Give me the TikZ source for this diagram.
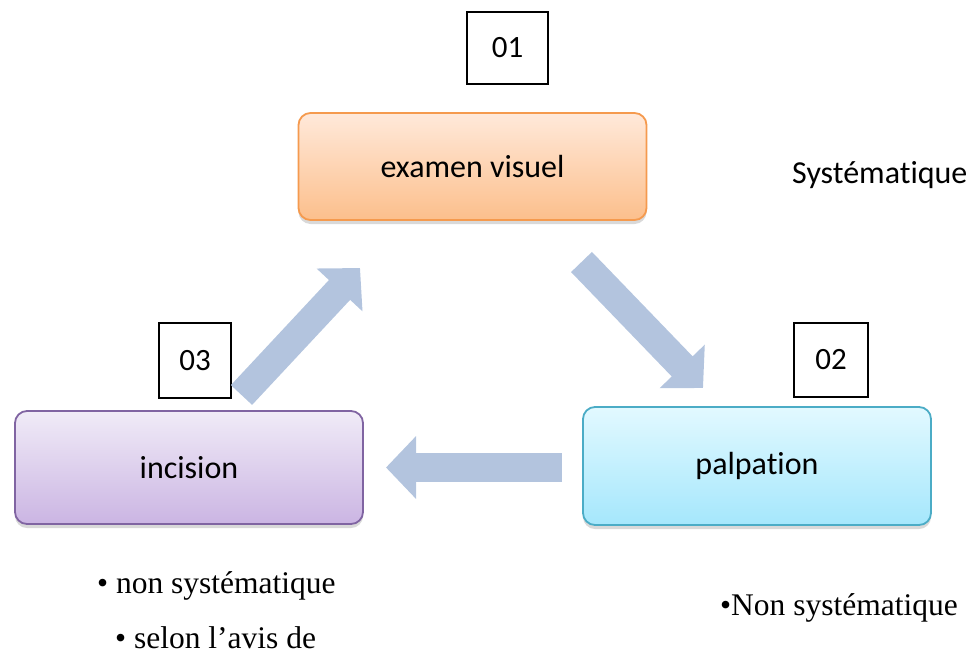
\documentclass[tikz,border=0pt]{standalone}
\usepackage{fontspec}
\setmainfont{Liberation Serif}
\newfontfamily\calibri[Ligatures={NoCommon}]{Carlito}
\usepackage{tikz}
\usetikzlibrary{arrows.meta,positioning,shadows}
\definecolor{arrowblue}{HTML}{B3C4DE}
\definecolor{orangetop}{HTML}{FFE9DA}
\definecolor{orangebot}{HTML}{FCBF8C}
\definecolor{orangeline}{HTML}{F59A4E}
\definecolor{purpletop}{HTML}{F0EBF7}
\definecolor{purplebot}{HTML}{CBB5E3}
\definecolor{purpleline}{HTML}{8064A2}
\definecolor{cyantop}{HTML}{E2F9FF}
\definecolor{cyanbot}{HTML}{A5E7FC}
\definecolor{cyanline}{HTML}{4BACC6}
\tikzstyle{stage}     = [rectangle, rounded corners=12pt, line width=1.8pt, minimum width=348pt, font=\calibri\fontsize{32}{38}\selectfont, text=black, drop shadow={shadow xshift=0pt, shadow yshift=-4pt, opacity=0.25, fill=black!60}]
\tikzstyle{numbox}    = [rectangle, draw=black, line width=1.5pt, fill=white, font=\calibri\fontsize{31}{37}\selectfont]
\tikzstyle{note}      = [anchor=base west, inner sep=0pt, font=\fontsize{31.5}{38}\selectfont]
\tikzstyle{bigarrow}  = [draw=arrowblue, line width=29pt, -{Triangle[length=30pt,width=61pt]}]

\begin{document}
\begin{tikzpicture}[x=1pt,y=-1pt]
	\useasboundingbox (0,0) rectangle (973,653);
	% stages
	\node[stage, minimum height=107pt, draw=orangeline, top color=orangetop, bottom color=orangebot] (examen) at (472.5,166.5) {examen visuel};
	\node[stage, minimum height=118pt, draw=cyanline, top color=cyantop, bottom color=cyanbot] (palpation) at (757,466) {palpation};
	\node[stage, minimum height=113pt, draw=purpleline, top color=purpletop, bottom color=purplebot] (incision) at (189,467.5) {incision};
	% numbers
	\node[numbox, minimum width=81pt, minimum height=72pt] (n01) at (507.5,48) {01};
	\node[numbox, minimum width=74pt, minimum height=74pt] (n02) at (831,360) {02};
	\node[numbox, minimum width=72pt, minimum height=75pt] (n03) at (195,360.5) {03};
	% arrows
	\coordinate (t1) at (581.5,262);
	\coordinate (h1) at (703,388);
	\coordinate (t2) at (562,467.5);
	\coordinate (h2) at (386,467.5);
	\coordinate (t3) at (241.5,395);
	\coordinate (h3) at (360,268);
	\draw[bigarrow] (t1) -- (h1);
	\draw[bigarrow] (t2) -- (h2);
	\draw[bigarrow] (t3) -- (h3);
	% notes
	\node[note, font=\calibri\fontsize{32}{38}\selectfont] (sys) at (792,183) {Systématique};
	\node[note] (nonsys) at (97,593) {• non systématique};
	\node[note] (avis) at (115,648) {• selon l’avis de};
	\node[note] (nonsysb) at (720,615) {•Non systématique};
\end{tikzpicture}
\end{document}
